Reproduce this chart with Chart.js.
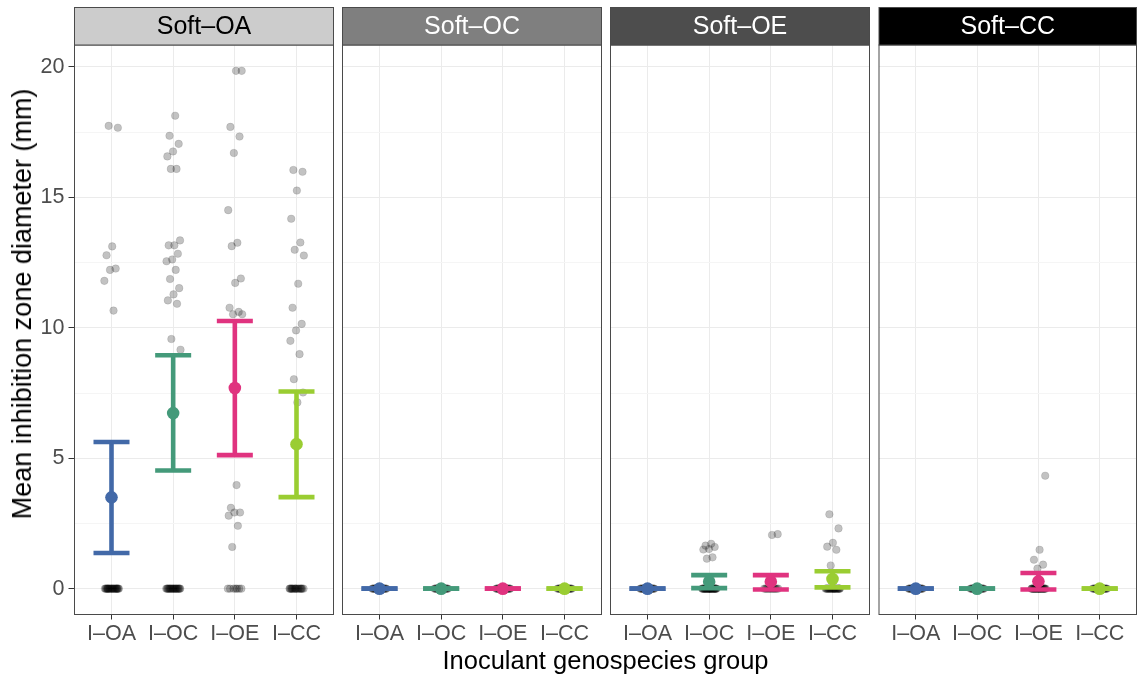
<!DOCTYPE html>
<html><head><meta charset="utf-8">
<script src="https://cdn.jsdelivr.net/npm/chart.js@4.4.1/dist/chart.umd.min.js"></script>
<style>
html,body{margin:0;padding:0;background:#fff;}
#wrap{position:relative;width:1138px;height:677px;overflow:hidden;font-family:"Liberation Sans",Arial,sans-serif;background:#fff;}
canvas{position:absolute;top:0;}
#xt{position:absolute;left:74px;width:1063px;top:646px;text-align:center;font-size:25.5px;color:#000;line-height:28px;}
#yt{position:absolute;left:22px;top:304px;width:0;height:0;}
#yt span{position:absolute;transform:translate(-50%,-50%) rotate(-90deg);white-space:nowrap;font-size:27px;color:#000;line-height:28px;}
</style></head><body>
<div id="wrap">
<canvas id="p0" width="336" height="677" style="left:0px;width:336px;height:677px"></canvas>
<canvas id="p1" width="264" height="677" style="left:340px;width:264px;height:677px"></canvas>
<canvas id="p2" width="264" height="677" style="left:608px;width:264px;height:677px"></canvas>
<canvas id="p3" width="262" height="677" style="left:876px;width:262px;height:677px"></canvas>
<div id="xt">Inoculant genospecies group</div>
<div id="yt"><span>Mean inhibition zone diameter (mm)</span></div>
</div>
<script>
// ---- data ----
const facets = ['Soft–OA', 'Soft–OC', 'Soft–OE', 'Soft–CC'];
const groups = ['I–OA', 'I–OC', 'I–OE', 'I–CC'];
const yTicks = [0, 5, 10, 15, 20];

// mean and error-bar limits [facet][group]
const means = [[3.50, 6.73, 7.69, 5.54], [0, 0, 0, 0], [0, 0.27, 0.27, 0.37], [0, 0, 0.28, 0]];
const lower = [[1.37, 4.53, 5.12, 3.51], [0, 0, 0, 0], [0, 0.02, -0.03, 0.05], [0, 0, -0.03, 0]];
const upper = [[5.62, 8.95, 10.26, 7.56], [0, 0, 0, 0], [0, 0.52, 0.52, 0.67], [0, 0, 0.60, 0]];

// non-zero individual observations [facet][group]
const softOA = [
  [17.74, 17.67, 13.12, 12.78, 12.27, 12.22, 11.80, 10.66],
  [18.13, 17.36, 17.05, 16.76, 16.57, 16.09, 16.09, 13.35, 13.16, 13.16, 12.84, 12.62, 12.55, 12.22, 11.87, 11.52, 11.28, 11.05, 10.92, 9.57, 9.16],
  [19.85, 19.85, 17.70, 17.33, 16.70, 14.51, 13.26, 13.13, 11.89, 11.72, 10.77, 10.61, 10.52, 10.52, 3.97, 3.10, 2.92, 2.92, 2.80, 2.41, 1.60],
  [16.05, 15.98, 15.26, 14.18, 13.27, 12.99, 12.77, 11.69, 10.77, 10.15, 9.90, 9.50, 8.99, 8.03, 7.52, 7.14]
];
const softOC = [[], [], [], []];
const softOE = [
  [],
  [1.72, 1.65, 1.60, 1.52, 1.50, 1.20, 1.15],
  [2.09, 2.06],
  [2.85, 2.31, 1.76, 1.61, 1.49, 0.89]
];
const softCC = [[], [], [4.33, 1.49, 1.11, 0.92, 0.77], []];
// number of zero observations [facet][group]
const zeroCounts = [[23, 21, 7, 17], [20, 20, 20, 20], [20, 31, 13, 23], [20, 20, 26, 20]];

const observations = [softOA, softOC, softOE, softCC];
const groupColors = ['#4269A8', '#449A7A', '#E0337F', '#9ACD32'];
const stripFill = ['#CCCCCC', '#7F7F7F', '#4D4D4D', '#000000'];
const stripText = ['#000000', '#FFFFFF', '#FFFFFF', '#FFFFFF'];

Chart.defaults.font.family = '"Liberation Sans", Arial, sans-serif';
Chart.defaults.animation = false;

const layout = [
  {id: 'p0', padL: 0, padR: 2.5, yW: 74.5, showY: true},
  {id: 'p1', padL: 2.5, padR: 2.5, yW: 0, showY: false},
  {id: 'p2', padL: 2.5, padR: 2.5, yW: 0, showY: false},
  {id: 'p3', padL: 3, padR: 1.5, yW: 0, showY: false}
];

function jitter(i) { // deterministic horizontal spread for overlapping points
  const f = (i * 0.6180339887 + 0.31) % 1;
  return (f - 0.5) * 0.24;
}

const facetPlugin = {
  id: 'facetFrame',
  afterDraw(chart, args, opts) {
    const {ctx, chartArea: a} = chart;
    ctx.save();
    ctx.strokeStyle = '#4a4a4a';
    ctx.lineWidth = 1;
    ctx.strokeRect(a.left, a.top, a.right - a.left, a.bottom - a.top);
    // strip
    ctx.fillStyle = opts.fill;
    ctx.fillRect(a.left, 7.5, a.right - a.left, a.top - 7.5);
    ctx.strokeRect(a.left, 7.5, a.right - a.left, a.top - 7.5);
    ctx.fillStyle = opts.color;
    ctx.font = '25px "Liberation Sans", Arial, sans-serif';
    ctx.textAlign = 'center';
    ctx.textBaseline = 'middle';
    ctx.fillText(opts.label, (a.left + a.right) / 2, 27);
    ctx.restore();
  }
};

facets.forEach((facet, f) => {
  const L = layout[f];
  const pts = [];
  groups.forEach((g, gi) => {
    const vals = observations[f][gi].slice();
    for (let k = 0; k < zeroCounts[f][gi]; k++) vals.push(0);
    vals.forEach((v, i) => pts.push({x: gi + 1 + jitter(i + gi * 7), y: v}));
  });
  const datasets = [{
    type: 'scatter', data: pts, order: 3,
    pointRadius: 3.8, backgroundColor: 'rgba(0,0,0,0.24)', borderColor: 'rgba(0,0,0,0.18)', borderWidth: 0.6
  }];
  groups.forEach((g, gi) => {
    datasets.push({
      type: 'line', order: 2, showLine: true,
      data: [{x: gi + 1, y: lower[f][gi]}, {x: gi + 1, y: upper[f][gi]}],
      borderColor: groupColors[gi], borderWidth: 4.6,
      pointStyle: 'line', pointRadius: 18, pointBorderWidth: 4.6,
      pointBorderColor: groupColors[gi], pointBackgroundColor: groupColors[gi]
    });
  });
  datasets.push({
    type: 'scatter', order: 1,
    data: groups.map((g, gi) => ({x: gi + 1, y: means[f][gi]})),
    pointRadius: 6.3, backgroundColor: groupColors, borderWidth: 0
  });

  new Chart(document.getElementById(L.id), {
    type: 'scatter',
    data: {datasets},
    plugins: [facetPlugin],
    options: {
      responsive: false, events: [],
      layout: {autoPadding: false, padding: {top: 45, left: L.padL, right: L.padR, bottom: 0}},
      plugins: {legend: {display: false}, tooltip: {enabled: false},
        facetFrame: {label: facet, fill: stripFill[f], color: stripText[f]}},
      scales: {
        x: {
          type: 'linear', min: 0.4, max: 4.6, position: 'bottom',
          afterBuildTicks: s => { s.ticks = groups.map((g, i) => ({value: i + 1})); },
          afterFit: s => { s.height = 62.5; s.paddingLeft = 0; s.paddingRight = 0; },
          border: {display: false},
          grid: {color: '#EBEBEB', lineWidth: 1, tickLength: 5, tickColor: '#333333'},
          ticks: {autoSkip: false, maxRotation: 0, padding: 2, color: '#4D4D4D',
            font: {size: 21.5}, callback: v => groups[v - 1]}
        },
        y: {
          type: 'linear', min: -0.99, max: 20.84,
          afterBuildTicks: s => { s.ticks = [0, 2.5, 5, 7.5, 10, 12.5, 15, 17.5, 20].map(v => ({value: v})); },
          afterFit: s => { s.width = L.yW; s.paddingTop = 0; s.paddingBottom = 0; },
          border: {display: false},
          grid: {
            color: c => (c.tick && c.tick.value % 5 === 0) ? '#EBEBEB' : '#F5F5F5',
            lineWidth: 1,
            tickLength: L.showY ? 6 : 0,
            tickColor: c => (L.showY && c.tick && c.tick.value % 5 === 0) ? '#333333' : 'rgba(0,0,0,0)'
          },
          ticks: {display: L.showY, padding: 4, color: '#4D4D4D', font: {size: 21.5},
            callback: v => yTicks.includes(v) ? String(v) : ''}
        }
      }
    }
  });
});
</script>
</body></html>
